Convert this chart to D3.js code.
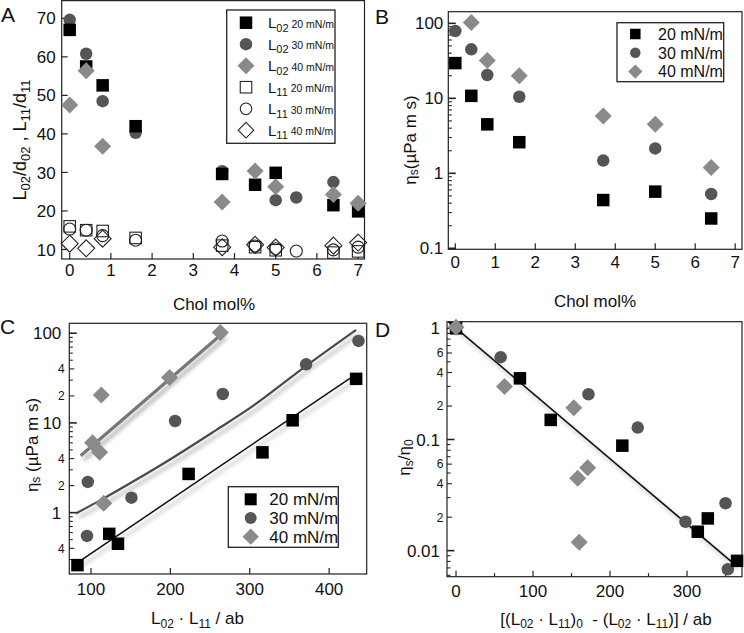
<!DOCTYPE html>
<html><head><meta charset="utf-8">
<script src="https://cdn.jsdelivr.net/npm/d3@7"></script>
<style>
body{margin:0;background:#fff}
svg{display:block}
text{font-family:"Liberation Sans",Arial,Helvetica,sans-serif;fill:#111}
</style>
</head><body>
<svg id="c" width="744" height="633"></svg>
<script>
// ---------- DATA ----------
// Panel A: L02/d02 (filled) and L11/d11 (open) vs Chol mol%
const cholL02_20 = [0, 0.4, 0.8, 1.6, 3.7, 4.5, 5.0, 6.4, 7.0];
const L02_20     = [67, 57.5, 52.6, 42, 29.6, 26.8, 29.9, 21.5, 19.9];
const cholL02_30 = [0, 0.4, 0.8, 1.6, 3.7, 5.0, 5.5, 6.4, 7.0];
const L02_30     = [69.6, 60.8, 48.5, 40.3, 30.3, 22.8, 23.5, 27.5, 21.5];
const cholL02_40 = [0, 0.4, 0.8, 3.7, 4.5, 5.0, 6.4, 7.0];
const L02_40     = [47.5, 56.4, 36.8, 22.3, 30.4, 26.3, 24.3, 22];
const cholL11_20 = [0, 0.4, 0.8, 1.6, 3.7, 4.5, 5.0, 6.4, 7.0];
const L11_20     = [16, 15, 14.8, 13, 11, 10.6, 9.8, 9.2, 9.5];
const cholL11_30 = [0, 0.4, 0.8, 1.6, 3.7, 4.5, 5.0, 5.5, 6.4, 7.0];
const L11_30     = [15.3, 15, 13.6, 12.4, 12.2, 10.9, 10.2, 9.6, 9.9, 10.6];
const cholL11_40 = [0, 0.4, 0.8, 3.7, 4.5, 5.0, 6.4, 7.0];
const L11_40     = [11.5, 10.3, 12.8, 10.6, 11.2, 10.5, 11, 11.8];
const ticksA_x = [0,1,2,3,4,5,6,7];
const ticksA_y = [10,20,30,40,50,60,70];

// Panel B: surface viscosity vs Chol mol%
const cholB20 = [0, 0.4, 0.8, 1.6, 3.7, 5.0, 6.4];
const etaB20  = [29.5, 10.8, 4.5, 2.6, 0.44, 0.57, 0.25];
const cholB30 = [0, 0.4, 0.8, 1.6, 3.7, 5.0, 6.4];
const etaB30  = [79, 45, 20.5, 10.5, 1.48, 2.15, 0.53];
const cholB40 = [0.4, 0.8, 1.6, 3.7, 5.0, 6.4];
const etaB40  = [103, 32, 20, 5.8, 4.5, 1.2];
const ticksB_x = [0,1,2,3,4,5,6,7];

// Panel C: viscosity vs L02·L11/ab
const LLC20 = [83, 123, 134, 223, 316, 354, 434];
const etaC20 = [0.26, 0.58, 0.45, 2.7, 4.7, 10.7, 31];
const LLC30 = [95, 96, 151, 206, 266, 371, 437];
const etaC30 = [0.55, 2.2, 1.47, 10.5, 21, 45, 82];
const LLC40 = [102, 111, 113, 116, 199, 263];
const etaC40 = [6.0, 4.7, 20.5, 1.27, 32, 102];
const fitC20_x = [85, 435];          const fitC20_y = [0.285, 35.5];
const fitC30_x = [81, 111, 153, 200, 258, 300, 371, 434];
const fitC30_y = [0.98, 1.36, 2.22, 3.94, 8.36, 14.6, 43.3, 109];
const fitC40_x = [87, 266];          const fitC40_y = [4.3, 100];
const ticksC_x = [100, 200, 300, 400];

// Panel D: normalized viscosity vs difference
const dD20 = [0, 83, 123, 216, 314, 327, 365];
const rD20 = [1, 0.355, 0.15, 0.088, 0.0148, 0.0195, 0.0081];
const dD30 = [0, 58, 172, 236, 298, 350, 353];
const rD30 = [1, 0.55, 0.255, 0.128, 0.0182, 0.0267, 0.0068];
const dD40 = [0, 63, 153, 158, 160, 171];
const rD40 = [1.02, 0.3, 0.193, 0.0448, 0.0119, 0.0558];
const fitD_x = [-10, 363];           const fitD_y = [1.15, 0.0074];
const ticksD_x = [0, 100, 200, 300];
const ticksD_xMinor = [50, 150, 250, 350];

const legendLabels = ["20 mN/m", "30 mN/m", "40 mN/m"];

// ---------- DRAWING ----------
const svg = d3.select('#c');
const defs = svg.append('defs');
const filt = defs.append('filter').attr('id','sh').attr('filterUnits','userSpaceOnUse')
  .attr('x',0).attr('y',0).attr('width',744).attr('height',633);
filt.append('feGaussianBlur').attr('in','SourceAlpha').attr('stdDeviation',2.2).attr('result','b');
filt.append('feOffset').attr('in','b').attr('dx',3).attr('dy',4).attr('result','o');
filt.append('feComponentTransfer').attr('in','o').attr('result','o2')
  .append('feFuncA').attr('type','linear').attr('slope',0.35);
const fm = filt.append('feMerge');
fm.append('feMergeNode').attr('in','o2');
fm.append('feMergeNode').attr('in','SourceGraphic');

const C_SQ = '#000', C_CI = '#555', C_DI = '#8a8a8a';

function sym(g, type, x, y, s, fill, stroke, sw) {
  let el;
  if (type === 'sq') el = g.append('rect').attr('x', x - s/2).attr('y', y - s/2).attr('width', s).attr('height', s);
  else if (type === 'ci') el = g.append('circle').attr('cx', x).attr('cy', y).attr('r', s/2);
  else { const h = s * 0.68; el = g.append('path').attr('d', `M${x},${y-h}L${x+h},${y}L${x},${y+h}L${x-h},${y}Z`); }
  el.attr('fill', fill);
  if (stroke) el.attr('stroke', stroke).attr('stroke-width', sw || 1.2);
  return el;
}

function rich(sel, parts) {
  let prev = 0;
  parts.forEach(([t, size, shift]) => {
    sel.append('tspan').attr('font-size', size).attr('dy', shift - prev).text(t);
    prev = shift;
  });
}

function frame(box) {
  svg.append('rect').attr('x', box.L).attr('y', box.T).attr('width', box.R - box.L).attr('height', box.B - box.T)
    .attr('fill', 'none').attr('stroke', '#222').attr('stroke-width', 1.2);
}

function xTicks(xs, box, vals, labelBase, minor) {
  const g = svg.append('g');
  vals.forEach(v => {
    g.append('line').attr('x1', xs(v)).attr('x2', xs(v)).attr('y1', box.B).attr('y2', box.B - 6).attr('stroke', '#222').attr('stroke-width', 1.2);
    g.append('text').attr('x', xs(v)).attr('y', labelBase).attr('text-anchor', 'middle').attr('font-size', 17).text(v);
  });
  (minor || []).forEach(v => {
    g.append('line').attr('x1', xs(v)).attr('x2', xs(v)).attr('y1', box.B).attr('y2', box.B - 3.5).attr('stroke', '#222').attr('stroke-width', 1.2);
  });
}

function yTicksLin(ys, box, vals, pad) {
  const g = svg.append('g');
  vals.forEach(v => {
    g.append('line').attr('x1', box.L).attr('x2', box.L + 6).attr('y1', ys(v)).attr('y2', ys(v)).attr('stroke', '#222').attr('stroke-width', 1.2);
    g.append('text').attr('x', box.L - pad).attr('y', ys(v)).attr('dy', '0.36em').attr('text-anchor', 'end').attr('font-size', 17).text(v);
  });
}

function yTicksLog(ys, box, pad, padMinor, labeledMinor, fmt, minLabeled) {
  const g = svg.append('g');
  const dom = ys.domain();
  for (let e = Math.floor(Math.log10(dom[0])); e <= Math.ceil(Math.log10(dom[1])); e++) {
    for (let m = 1; m <= 9; m++) {
      const v = +(m * Math.pow(10, e)).toPrecision(6);
      if (v < dom[0] || v > dom[1]) continue;
      const major = m === 1, lab = labeledMinor.includes(m) && (minLabeled === undefined || v >= minLabeled);
      const len = major ? 7.5 : (lab ? 5 : 3.5);
      g.append('line').attr('x1', box.L).attr('x2', box.L + len).attr('y1', ys(v)).attr('y2', ys(v))
        .attr('stroke', '#222').attr('stroke-width', major ? 1.6 : 1.1);
      if (major) g.append('text').attr('x', box.L - pad).attr('y', ys(v)).attr('dy', '0.36em').attr('text-anchor', 'end').attr('font-size', 17).text(fmt(v));
      else if (lab) g.append('text').attr('x', box.L - padMinor).attr('y', ys(v)).attr('dy', '0.36em').attr('text-anchor', 'end').attr('font-size', 12).text(m);
    }
  }
}

function plotSeries(xs, ys, xv, yv, type, s, fill, stroke, sw) {
  const g = svg.append('g');
  xv.forEach((v, i) => sym(g, type, xs(v), ys(yv[i]), s, fill, stroke, sw));
}

function fitLine(xs, ys, xv, yv, color, width, curve) {
  const line = d3.line().x(d => xs(d[0])).y(d => ys(d[1])).curve(curve || d3.curveLinear);
  svg.append('path').datum(xv.map((v, i) => [v, yv[i]])).attr('d', line)
    .attr('fill', 'none').attr('stroke', color).attr('stroke-width', width).attr('filter', 'url(#sh)');
}

function panelLetter(t, x, y) {
  svg.append('text').attr('x', x).attr('y', y).attr('font-size', 21).text(t);
}

function yTitle(x, y, parts) {
  const t = svg.append('text').attr('transform', `translate(${x},${y}) rotate(-90)`).attr('text-anchor', 'middle').attr('font-size', 17);
  rich(t, parts);
}
function xTitle(x, y, parts) {
  const t = svg.append('text').attr('x', x).attr('y', y).attr('text-anchor', 'middle').attr('font-size', 17);
  rich(t, parts);
}

// ===== Panel A =====
{
  const box = {L: 61.7, R: 364.5, T: 0.6, B: 259};
  const xs = d3.scaleLinear().domain([-0.194, 7.155]).range([box.L, box.R]);
  const ys = d3.scaleLinear().domain([7.53, 74.6]).range([box.B, box.T]);
  frame(box);
  xTicks(xs, box, ticksA_x, 275.5);
  yTicksLin(ys, box, ticksA_y, 6);
  plotSeries(xs, ys, cholL11_20, L11_20, 'sq', 11.5, '#fff', '#222', 1.1);
  plotSeries(xs, ys, cholL11_30, L11_30, 'ci', 12, 'none', '#222', 1.1);
  plotSeries(xs, ys, cholL11_40, L11_40, 'di', 12.5, 'none', '#222', 1.1);
  plotSeries(xs, ys, cholL02_30, L02_30, 'ci', 12.5, C_CI);
  plotSeries(xs, ys, cholL02_20, L02_20, 'sq', 12.5, C_SQ);
  plotSeries(xs, ys, cholL02_40, L02_40, 'di', 12.5, C_DI);
  svg.append('rect').attr('x', 226.7).attr('y', 10).attr('width', 108.3).attr('height', 133.3)
    .attr('fill', '#fff').attr('stroke', '#222').attr('stroke-width', 1.3);
  const rowsY = d3.range(6).map(i => 22.7 + i * 21.5);
  const legSyms = [['sq', C_SQ, null], ['ci', C_CI, null], ['di', C_DI, null], ['sq', '#fff', '#222'], ['ci', '#fff', '#222'], ['di', '#fff', '#222']];
  const legSub = ['02', '02', '02', '11', '11', '11'];
  const lg = svg.append('g');
  legSyms.forEach((d, i) => {
    sym(lg, d[0], 246, rowsY[i], d[2] ? 11.5 : 12.5, d[1], d[2], 1.1);
    const t = lg.append('text').attr('x', 268).attr('y', rowsY[i] + 5.5).attr('font-size', 15);
    rich(t, [['L', 15, 0], [legSub[i], 11, 3.5], ['\u00a0' + legendLabels[i % 3], 10.5, -0.5]]);
  });
  xTitle(214, 309.5, [['Chol mol%', 17, 0]]);
  yTitle(26, 140, [['L', 18, 0], ['02', 13, 4], ['/d', 18, 0], ['02', 13, 4], ['\u00a0,\u00a0L', 18, 0], ['11', 13, 4], ['/d', 18, 0], ['11', 13, 4]]);
  panelLetter('A', 1, 22);
}

// ===== Panel B =====
{
  const box = {L: 448.3, R: 742, T: 11.7, B: 249.3};
  const xs = d3.scaleLinear().domain([-0.175, 7.17]).range([box.L, box.R]);
  const ys = d3.scaleLog().domain([0.097, 143]).range([box.B, box.T]);
  frame(box);
  xTicks(xs, box, ticksB_x, 268);
  yTicksLog(ys, box, 5, 5, [], v => (v < 1 ? v.toFixed(1) : String(Math.round(v))));
  plotSeries(xs, ys, cholB30, etaB30, 'ci', 12.5, C_CI);
  plotSeries(xs, ys, cholB20, etaB20, 'sq', 12.5, C_SQ);
  plotSeries(xs, ys, cholB40, etaB40, 'di', 12.5, C_DI);
  svg.append('rect').attr('x', 617).attr('y', 22.7).attr('width', 106.7).attr('height', 59)
    .attr('fill', '#fff').attr('stroke', '#222').attr('stroke-width', 1.3);
  const lg = svg.append('g');
  [['sq', C_SQ], ['ci', C_CI], ['di', C_DI]].forEach((d, i) => {
    const yy = 34 + i * 18.8;
    sym(lg, d[0], 635.3, yy, 10.5, d[1]);
    lg.append('text').attr('x', 658).attr('y', yy + 5.8).attr('font-size', 16).text(legendLabels[i]);
  });
  xTitle(595, 307, [['Chol mol%', 17, 0]]);
  yTitle(416, 140, [['η', 17, 0], ['s', 12, 2], ['(µPa m s)', 17, 0]]);
  panelLetter('B', 375, 23.5);
}

// ===== Panel C =====
{
  const box = {L: 69.3, R: 366.7, T: 323.3, B: 574};
  const xs = d3.scaleLinear().domain([72.7, 447.3]).range([box.L, box.R]);
  const ys = d3.scaleLog().domain([0.207, 129]).range([box.B, box.T]);
  frame(box);
  xTicks(xs, box, ticksC_x, 595);
  yTicksLog(ys, box, 8, 4.5, [2, 4], v => String(Math.round(v)));
  fitLine(xs, ys, fitC20_x, fitC20_y, '#111', 1.5);
  fitLine(xs, ys, fitC30_x, fitC30_y, '#4a4a4a', 2.2, d3.curveMonotoneX);
  fitLine(xs, ys, fitC40_x, fitC40_y, '#777', 3.2);
  plotSeries(xs, ys, LLC30, etaC30, 'ci', 12.5, C_CI);
  plotSeries(xs, ys, LLC20, etaC20, 'sq', 12.5, C_SQ);
  plotSeries(xs, ys, LLC40, etaC40, 'di', 12.5, C_DI);
  svg.append('rect').attr('x', 228.3).attr('y', 486.7).attr('width', 110).attr('height', 60.6)
    .attr('fill', '#fff').attr('stroke', '#222').attr('stroke-width', 1.3);
  const lg = svg.append('g');
  [['sq', C_SQ], ['ci', C_CI], ['di', C_DI]].forEach((d, i) => {
    const yy = 499.3 + i * 18.7;
    sym(lg, d[0], 250.7, yy, 12, d[1]);
    lg.append('text').attr('x', 269.3).attr('y', yy + 6).attr('font-size', 17).text(legendLabels[i]);
  });
  xTitle(197.5, 624, [['L', 17, 0], ['02', 12, 3.5], ['\u00a0·\u00a0L', 17, 0], ['11', 12, 3.5], ['\u00a0/ ab', 17, 0]]);
  yTitle(38, 445, [['η', 17, 0], ['s', 12, 2], ['\u00a0(µPa m s)', 17, 0]]);
  panelLetter('C', 0, 333.5);
}

// ===== Panel D =====
{
  const box = {L: 447, R: 742, T: 321.7, B: 576.7};
  const xs = d3.scaleLinear().domain([-11.7, 371.4]).range([box.L, box.R]);
  const ys = d3.scaleLog().domain([0.00583, 1.147]).range([box.B, box.T]);
  frame(box);
  xTicks(xs, box, ticksD_x, 596.7, ticksD_xMinor);
  yTicksLog(ys, box, 7, 3.5, [2, 4, 6], v => (v >= 1 ? '1' : String(+v.toPrecision(1))), 0.01);
  fitLine(xs, ys, fitD_x, fitD_y, '#111', 1.6);
  plotSeries(xs, ys, dD30, rD30, 'ci', 12.5, C_CI);
  plotSeries(xs, ys, dD20, rD20, 'sq', 12.5, C_SQ);
  plotSeries(xs, ys, dD40, rD40, 'di', 12.5, C_DI);
  xTitle(606, 624.5, [['[(L', 17, 0], ['02', 12, 3.5], ['\u00a0·\u00a0L', 17, 0], ['11', 12, 3.5], [')', 17, 0], ['0', 12, 3.5], ['\u00a0\u00a0-\u00a0(L', 17, 0], ['02', 12, 3.5], ['\u00a0·\u00a0L', 17, 0], ['11', 12, 3.5], [')] / ab', 17, 0]]);
  yTitle(410, 457.5, [['η', 17, 0], ['s', 12, 3], ['/η', 17, 0], ['0', 12, 3]]);
  panelLetter('D', 375, 337);
}
</script>
</body></html>
